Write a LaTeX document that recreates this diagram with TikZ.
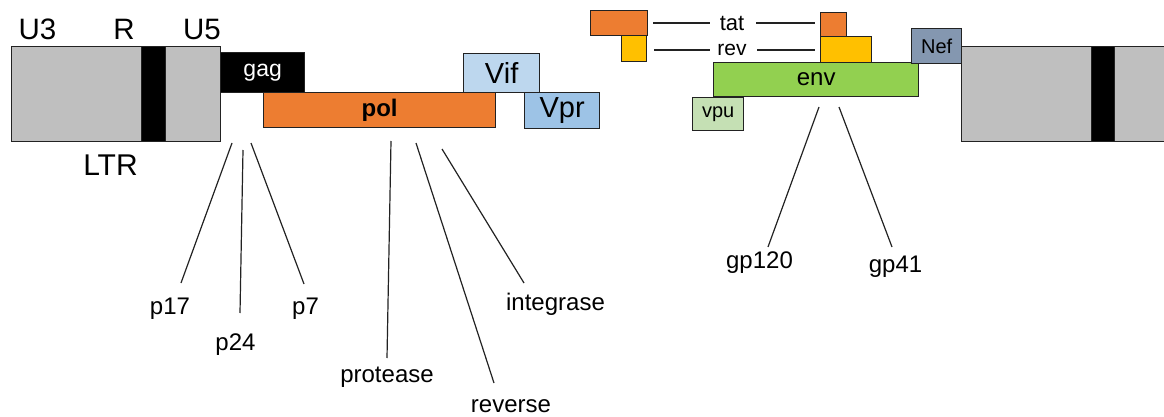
\documentclass[tikz,border=0pt]{standalone}
\usepackage{fontspec}
\setmainfont{Liberation Sans}
\newcommand\myfs[1]{\fontsize{#1}{#1}\selectfont}
\definecolor{ltrgrey}{HTML}{BFBFBF}
\definecolor{orng}{HTML}{ED7D31}
\definecolor{yell}{HTML}{FFC000}
\definecolor{grn}{HTML}{92D050}
\definecolor{lgrn}{HTML}{C5E0B4}
\definecolor{vifc}{HTML}{BDD7EE}
\definecolor{vprc}{HTML}{9DC3E6}
\definecolor{nefc}{HTML}{8497B0}
\definecolor{edge}{HTML}{222222}
\begin{document}
\begin{tikzpicture}[x=1pt,y=-1pt,
  box/.style={draw=edge, line width=1.3pt, inner sep=0pt, anchor=north west},
  lbl/.style={inner sep=0pt, font=\myfs{24}},
  conn/.style={line width=1.2pt, draw=edge}]
\useasboundingbox (0,0) rectangle (1164,417);
% left LTR
\node[box, fill=ltrgrey, minimum width=209pt, minimum height=95pt] (ltrL) at (11,46) {};
\node[box, fill=black, minimum width=24pt, minimum height=95pt] (bandL) at (141,46) {};
\node[lbl, font=\myfs{29.5}] (u3) at (37.5,29.5) {U3};
\node[lbl, font=\myfs{29.5}] (r) at (124,29.5) {R};
\node[lbl, font=\myfs{29.5}] (u5) at (202,29.5) {U5};
\node[lbl, font=\myfs{30}] (ltr) at (110.5,165) {LTR};
% gag, pol, vif, vpr
\node[box, fill=black, text=white, font=\myfs{23}, minimum width=84pt, minimum height=40pt] (gag) at (220,52) {gag};
\node[box, fill=orng, font=\myfs{24}\bfseries, minimum width=232pt, minimum height=35pt] (pol) at (263,92) {pol};
\node[box, fill=vifc, font=\myfs{29}, minimum width=76pt, minimum height=39pt] (vif) at (463,53) {Vif};
\node[box, fill=vprc, font=\myfs{29}, minimum width=75pt, minimum height=36pt] (vpr) at (524,92) {Vpr};
% tat / rev
\node[box, fill=orng, minimum width=57pt, minimum height=25pt] (tatL) at (590,10) {};
\node[box, fill=yell, minimum width=25pt, minimum height=26pt] (revL) at (621,35) {};
\node[box, fill=orng, minimum width=26pt, minimum height=24pt] (tatR) at (820,12) {};
\node[box, fill=yell, minimum width=51pt, minimum height=26pt] (revR) at (820,36) {};
\node[lbl, font=\myfs{22}] (tat) at (732,23) {tat};
\node[lbl, font=\myfs{21}] (rev) at (732,50) {rev};
\coordinate (ta1) at (653,23); \coordinate (ta2) at (710,23);
\coordinate (ta3) at (756,23); \coordinate (ta4) at (815,23);
\coordinate (re1) at (654,50); \coordinate (re2) at (710,50);
\coordinate (re3) at (757,50); \coordinate (re4) at (815,50);
\draw[conn] (ta1) -- (ta2); \draw[conn] (ta3) -- (ta4);
\draw[conn] (re1) -- (re2); \draw[conn] (re3) -- (re4);
% env, vpu, nef
\node[box, fill=grn, font=\myfs{24}, minimum width=205pt, minimum height=34pt] (env) at (713,62) {env};
\node[box, fill=lgrn, font=\myfs{20}, minimum width=51pt, minimum height=33pt] (vpu) at (692,97) {vpu};
\node[box, fill=nefc, font=\myfs{20}, minimum width=50pt, minimum height=35pt] (nef) at (911,28) {Nef};
% right LTR
\node[box, fill=ltrgrey, minimum width=215pt, minimum height=95pt] (ltrR) at (961,46) {};
\node[box, fill=black, minimum width=23pt, minimum height=95pt] (bandR) at (1091,46) {};
% labels
\node[lbl] (p17) at (170,309) {p17};
\node[lbl] (p24) at (235.5,344.5) {p24};
\node[lbl] (p7) at (305.5,309) {p7};
\node[lbl] (prot) at (387,377) {protease};
\node[lbl] (rever) at (511,406) {reverse};
\node[lbl] (integ) at (555.5,304) {integrase};
\node[lbl] (gp120) at (759.5,263) {gp120};
\node[lbl] (gp41) at (895.5,267) {gp41};
% connector ends
\coordinate (a17) at (232,143); \coordinate (b17) at (181,283);
\coordinate (a24) at (243,150); \coordinate (b24) at (240,313);
\coordinate (a7) at (251,143); \coordinate (b7) at (304,284);
\coordinate (apr) at (391,141); \coordinate (bpr) at (387,358);
\coordinate (are) at (416,143); \coordinate (bre) at (494,383);
\coordinate (ain) at (442,149); \coordinate (bin) at (524,283);
\coordinate (ag1) at (819,107); \coordinate (bg1) at (768,247);
\coordinate (ag4) at (839,107); \coordinate (bg4) at (892,247);
\draw[conn] (a17) -- (b17);
\draw[conn] (a24) -- (b24);
\draw[conn] (a7) -- (b7);
\draw[conn] (apr) -- (bpr);
\draw[conn] (are) -- (bre);
\draw[conn] (ain) -- (bin);
\draw[conn] (ag1) -- (bg1);
\draw[conn] (ag4) -- (bg4);
\end{tikzpicture}
\end{document}
